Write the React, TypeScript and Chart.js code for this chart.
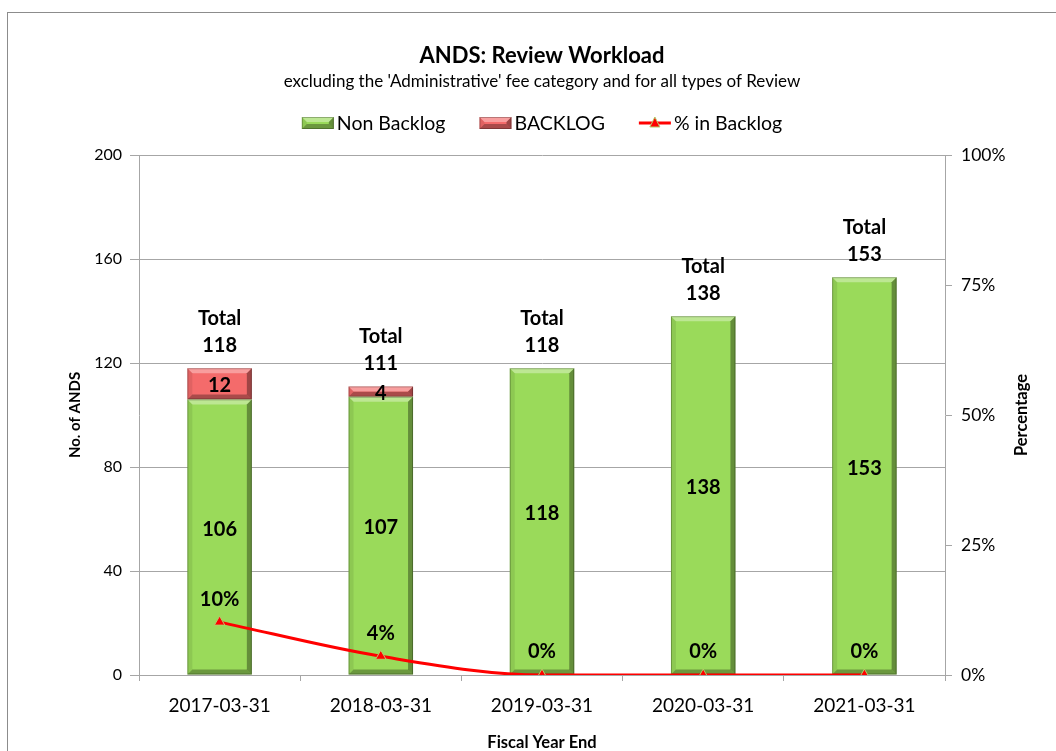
import React, { useEffect, useRef } from "react";
import { Chart, registerables } from "chart.js";

Chart.register(...registerables);

const categories = ["2017-03-31", "2018-03-31", "2019-03-31", "2020-03-31", "2021-03-31"];
const nonBacklog = [106, 107, 118, 138, 153];
const backlog = [12, 4, 0, 0, 0];
const pctBacklog = [10.17, 3.6, 0, 0, 0];
const leftTicks = [0, 40, 80, 120, 160, 200];
const rightTicks = [0, 0.25, 0.5, 0.75, 1];

const FONT = "Lato, 'Open Sans', sans-serif";
const GREEN = "#9ADA5A";
const RED = "#F46B6B";
const GRID = "#A6A6A6";

function bevel(ctx: CanvasRenderingContext2D, x0: number, y0: number, x1: number, y1: number) {
  const w = x1 - x0;
  const h = y1 - y0;
  if (h < 1) return;
  const e = Math.min(5, h / 2);
  ctx.save();
  ctx.fillStyle = "rgba(255,255,255,0.35)";
  ctx.beginPath();
  ctx.moveTo(x0, y0);
  ctx.lineTo(x1, y0);
  ctx.lineTo(x1 - e, y0 + e);
  ctx.lineTo(x0 + e, y0 + e);
  ctx.closePath();
  ctx.fill();
  ctx.fillStyle = "rgba(0,0,0,0.08)";
  ctx.beginPath();
  ctx.moveTo(x0, y0);
  ctx.lineTo(x0 + e, y0 + e);
  ctx.lineTo(x0 + e, y1 - e);
  ctx.lineTo(x0, y1);
  ctx.closePath();
  ctx.fill();
  ctx.fillStyle = "rgba(0,0,0,0.35)";
  ctx.beginPath();
  ctx.moveTo(x1, y0);
  ctx.lineTo(x1 - e, y0 + e);
  ctx.lineTo(x1 - e, y1 - e);
  ctx.lineTo(x1, y1);
  ctx.closePath();
  ctx.fill();
  ctx.fillStyle = "rgba(0,0,0,0.3)";
  ctx.beginPath();
  ctx.moveTo(x0, y1);
  ctx.lineTo(x0 + e, y1 - e);
  ctx.lineTo(x1 - e, y1 - e);
  ctx.lineTo(x1, y1);
  ctx.closePath();
  ctx.fill();
  ctx.strokeStyle = "rgba(0,0,0,0.25)";
  ctx.lineWidth = 1;
  ctx.strokeRect(x0 + 0.5, y0 + 0.5, w - 1, h - 1);
  ctx.restore();
}

const bevelPlugin = {
  id: "bevel",
  afterDatasetDraw(chart: any, args: any) {
    const meta = args.meta;
    if (meta.type !== "bar") return;
    const ctx = chart.ctx;
    meta.data.forEach((el: any) => {
      const { x, y, base, width } = el.getProps(["x", "y", "base", "width"], true);
      const top = Math.min(y, base);
      const bot = Math.max(y, base);
      bevel(ctx, x - width / 2, top, x + width / 2, bot);
    });
  },
};

const decorPlugin = {
  id: "decor",
  beforeDraw(chart: any) {
    const ctx = chart.ctx;
    ctx.save();
    ctx.fillStyle = "#fff";
    ctx.fillRect(0, 0, chart.width, chart.height);
    ctx.strokeStyle = "#8C8C8C";
    ctx.lineWidth = 1;
    ctx.strokeRect(7.5, 12.5, chart.width + 20, chart.height + 20);
    ctx.restore();
  },
  afterDraw(chart: any) {
    const ctx = chart.ctx;
    const ca = chart.chartArea;
    const cx = (ca.left + ca.right) / 2;
    ctx.save();
    ctx.fillStyle = "#000";
    ctx.textAlign = "center";
    ctx.textBaseline = "middle";
    ctx.font = `bold 22px ${FONT}`;
    ctx.fillText("ANDS: Review Workload", cx, 56);
    ctx.font = `17px ${FONT}`;
    ctx.fillText("excluding the 'Administrative' fee category and for all types of Review", cx, 82);

    // legend
    ctx.font = `19.5px ${FONT}`;
    ctx.textAlign = "left";
    const items = [
      { label: "Non Backlog", type: "bar", color: GREEN },
      { label: "BACKLOG", type: "bar", color: RED },
      { label: "% in Backlog", type: "line", color: "#FF0000" },
    ];
    const ly = 123;
    const gap = 34;
    const symW = 32;
    const widths = items.map((it) => symW + 3 + ctx.measureText(it.label).width);
    const total = widths.reduce((a, b) => a + b, 0) + gap * (items.length - 1);
    let x = cx - total / 2;
    items.forEach((it, i) => {
      if (it.type === "bar") {
        ctx.fillStyle = it.color;
        ctx.fillRect(x, ly - 6, symW, 12);
        bevel(ctx, x, ly - 6, x + symW, ly + 6);
      } else {
        ctx.strokeStyle = it.color;
        ctx.lineWidth = 3;
        ctx.beginPath();
        ctx.moveTo(x, ly);
        ctx.lineTo(x + symW, ly);
        ctx.stroke();
        ctx.fillStyle = "#FF0000";
        ctx.strokeStyle = "#B5CC6A";
        ctx.lineWidth = 1;
        ctx.beginPath();
        ctx.moveTo(x + symW / 2, ly - 6);
        ctx.lineTo(x + symW / 2 + 5, ly + 4);
        ctx.lineTo(x + symW / 2 - 5, ly + 4);
        ctx.closePath();
        ctx.fill();
        ctx.stroke();
      }
      ctx.fillStyle = "#000";
      ctx.fillText(it.label, x + symW + 3, ly + 1);
      x += widths[i] + gap;
    });

    // right axis title
    ctx.save();
    ctx.translate(1022, (ca.top + ca.bottom) / 2);
    ctx.rotate(-Math.PI / 2);
    ctx.textAlign = "center";
    ctx.font = `bold 16.5px ${FONT}`;
    ctx.fillText("Percentage", 0, 0);
    ctx.restore();
    ctx.restore();
  },
  afterDatasetsDraw(chart: any) {
    const ctx = chart.ctx;
    const ys = chart.scales.y;
    const y1 = chart.scales.y1;
    const xs = chart.scales.x;
    ctx.save();
    ctx.fillStyle = "#000";
    ctx.textAlign = "center";
    ctx.textBaseline = "middle";
    ctx.font = `bold 20px ${FONT}`;
    categories.forEach((_, i) => {
      const x = xs.getPixelForValue(i);
      const nb = nonBacklog[i];
      const bl = backlog[i];
      const tot = nb + bl;
      ctx.fillText(String(nb), x, (ys.getPixelForValue(0) + ys.getPixelForValue(nb)) / 2 - 8);
      if (bl > 0) {
        ctx.fillText(String(bl), x, (ys.getPixelForValue(nb) + ys.getPixelForValue(tot)) / 2 + 2);
      }
      const topY = ys.getPixelForValue(tot);
      ctx.fillText("Total", x, topY - 50);
      ctx.fillText(String(tot), x, topY - 23);
      const py = y1.getPixelForValue(pctBacklog[i] / 100);
      ctx.fillText(`${Math.round(pctBacklog[i])}%`, x, py - 23);
    });
    ctx.restore();
  },
};

export default function App() {
  const ref = useRef<HTMLCanvasElement>(null);
  useEffect(() => {
    document.body.style.margin = "0";
    const chart = new Chart(ref.current!, {
      type: "bar",
      data: {
        labels: categories,
        datasets: [
          {
            type: "line",
            label: "% in Backlog",
            data: pctBacklog.map((v) => v / 100),
            yAxisID: "y1",
            borderColor: "#FF0000",
            backgroundColor: "#FF0000",
            borderWidth: 3,
            cubicInterpolationMode: "monotone",
            pointStyle: "triangle",
            pointRadius: 6,
            pointBackgroundColor: "#FF0000",
            pointBorderColor: "#B5CC6A",
            pointBorderWidth: 1,
            order: 0,
          } as any,
          {
            label: "Non Backlog",
            data: nonBacklog,
            backgroundColor: GREEN,
            yAxisID: "y",
            stack: "s",
            barPercentage: 0.4,
            categoryPercentage: 1,
            order: 1,
          },
          {
            label: "BACKLOG",
            data: backlog,
            backgroundColor: RED,
            yAxisID: "y",
            stack: "s",
            barPercentage: 0.4,
            categoryPercentage: 1,
            order: 1,
          },
        ],
      },
      options: {
        responsive: false,
        animation: false,
        layout: { padding: { top: 155, left: 0, right: 0, bottom: 0 } },
        plugins: {
          legend: { display: false },
          title: { display: false },
          tooltip: { enabled: false },
        },
        scales: {
          x: {
            stacked: true,
            grid: {
              offset: true,
              drawOnChartArea: false,
              tickLength: 6,
              color: GRID,
            },
            border: { color: GRID },
            ticks: { font: { family: FONT, size: 19 }, color: "#000", padding: 13, maxRotation: 0 },
            title: {
              display: true,
              text: "Fiscal Year End",
              font: { family: FONT, size: 16.5, weight: "bold" },
              color: "#000",
              padding: { top: 0, bottom: -2 },
            },
            afterFit: (s: any) => {
              s.height = 76;
            },
          },
          y: {
            stacked: true,
            position: "left",
            min: 0,
            max: 200,
            afterBuildTicks: (s: any) => {
              s.ticks = leftTicks.map((v) => ({ value: v }));
            },
            grid: { color: GRID, tickLength: 9 },
            border: { color: GRID },
            ticks: { font: { family: FONT, size: 16 }, color: "#000", padding: 8 },
            title: {
              display: true,
              text: "No. of ANDS",
              font: { family: FONT, size: 15, weight: "bold" },
              color: "#000",
              padding: { top: 66, bottom: 0 },
            },
            afterFit: (s: any) => {
              s.width = 139;
            },
          },
          y1: {
            position: "right",
            min: 0,
            max: 1,
            afterBuildTicks: (s: any) => {
              s.ticks = rightTicks.map((v) => ({ value: v }));
            },
            grid: { drawOnChartArea: false, color: GRID, tickLength: 7 },
            border: { color: GRID },
            ticks: {
              font: { family: FONT, size: 17.5 },
              color: "#000",
              padding: 9,
              callback: (v: any) => `${Math.round(Number(v) * 100)}%`,
            },
            afterFit: (s: any) => {
              s.width = 111;
            },
          },
        },
      },
      plugins: [decorPlugin, bevelPlugin],
    });
    return () => chart.destroy();
  }, []);
  return <canvas ref={ref} width={1056} height={751} style={{ display: "block" }} />;
}
